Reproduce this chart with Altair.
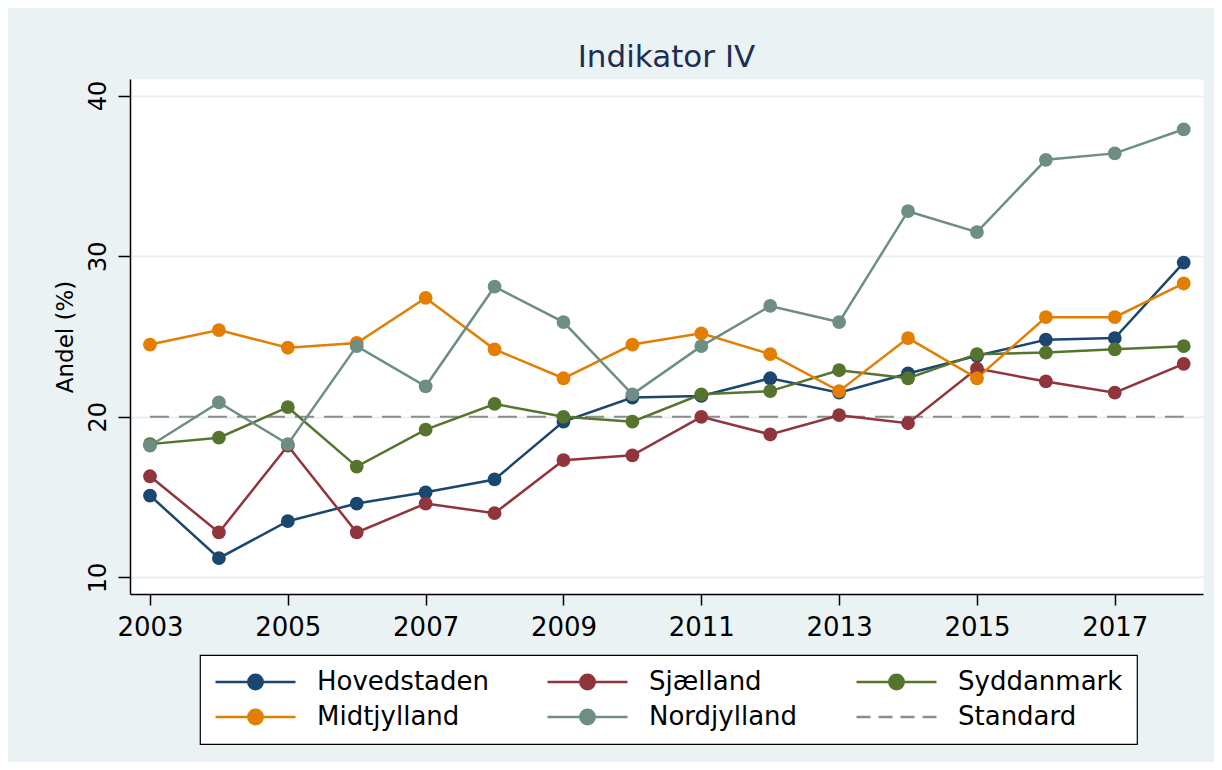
import altair as alt
import pandas as pd

# ---------------- data ----------------
years = list(range(2003, 2019))
hovedstaden = [15.1, 11.2, 13.5, 14.6, 15.3, 16.1, 19.7, 21.2, 21.3, 22.4, 21.5, 22.7, 23.8, 24.8, 24.9, 29.6]
sjaelland   = [16.3, 12.8, 18.2, 12.8, 14.6, 14.0, 17.3, 17.6, 20.0, 18.9, 20.1, 19.6, 23.0, 22.2, 21.5, 23.3]
syddanmark  = [18.3, 18.7, 20.6, 16.9, 19.2, 20.8, 20.0, 19.7, 21.4, 21.6, 22.9, 22.4, 23.9, 24.0, 24.2, 24.4]
midtjylland = [24.5, 25.4, 24.3, 24.6, 27.4, 24.2, 22.4, 24.5, 25.2, 23.9, 21.6, 24.9, 22.4, 26.2, 26.2, 28.3]
nordjylland = [18.2, 20.9, 18.3, 24.4, 21.9, 28.1, 25.9, 21.4, 24.4, 26.9, 25.9, 32.8, 31.5, 36.0, 36.4, 37.9]

series_names = ["Hovedstaden", "Sjælland", "Syddanmark", "Midtjylland", "Nordjylland"]
series_values = [hovedstaden, sjaelland, syddanmark, midtjylland, nordjylland]
standard_name = "Standard"
standard_value = 20

series_colors = ["#1A476F", "#90353B", "#55752F", "#E37E00", "#6E8E84", "#8C8C8C"]
x_ticks = [2003, 2005, 2007, 2009, 2011, 2013, 2015, 2017]
y_ticks = [10, 20, 30, 40]

rows = []
for name, vals in zip(series_names, series_values):
    for yr, v in zip(years, vals):
        rows.append({"year": yr, "value": v, "series": name})
df = pd.DataFrame(rows)
std_df = pd.DataFrame({
    "year": [years[0], years[-1]],
    "value": [standard_value, standard_value],
    "series": [standard_name, standard_name],
})

# ---------------- styling ----------------
FONT = "DejaVu Sans"
domain = series_names + [standard_name]
color_scale = alt.Scale(domain=domain, range=series_colors)

circle_path = "M-1,0H1M0.18,0A0.18,0.18,0,1,1,-0.18,0A0.18,0.18,0,1,1,0.18,0Z"
dash_path = "M-1,0H-0.65M-0.45,0H-0.1M0.1,0H0.45M0.65,0H1"

legend = alt.Legend(
    title=None,
    orient="none",
    legendX=70,
    legendY=576,
    direction="horizontal",
    columns=3,
    symbolType={"expr": f"datum.value == '{standard_name}' ? '{dash_path}' : '{circle_path}'"},
    symbolFillColor={"expr": "scale('color', datum.value)"},
    symbolStrokeColor={"expr": "scale('color', datum.value)"},
    symbolSize=6400,
    symbolStrokeWidth=2.5,
    symbolOpacity=1,
    clipHeight=26,
    rowPadding=9,
    columnPadding=57,
    labelFont=FONT,
    labelFontSize=26,
    labelColor="black",
    labelLimit=400,
    labelOffset=20,
    padding=14,
    fillColor="white",
    strokeColor="black",
)

x_enc = alt.X(
    "year:Q",
    scale=alt.Scale(domain=[2002.71, 2018.28], nice=False, zero=False),
    axis=alt.Axis(
        values=x_ticks, format="d", title=None, grid=False,
        labelFont=FONT, labelFontSize=26, labelColor="black",
        labelBaseline="alphabetic", labelPadding=30, labelFlush=False,
        tickSize=11, tickColor="black", tickWidth=1.5,
        domainColor="black", domainWidth=1.5,
    ),
)
y_enc = alt.Y(
    "value:Q",
    scale=alt.Scale(domain=[8.97, 41.03], nice=False, zero=False),
    axis=alt.Axis(
        values=y_ticks, title="Andel (%)",
        titleFont=FONT, titleFontSize=23, titleFontWeight="normal", titleColor="black",
        titleAngle=270, titleBaseline="alphabetic", titleX=-58, titleY=257.5, titleAlign="center",
        labelFont=FONT, labelFontSize=24, labelColor="black",
        labelAngle=270, labelAlign="center", labelBaseline="alphabetic", labelPadding=13,
        tickSize=12, tickColor="black", tickWidth=1.5,
        domainColor="black", domainWidth=1.5,
        grid=True, gridColor="#E6EFF1", gridWidth=2,
    ),
)
color_enc = alt.Color("series:N", scale=color_scale, legend=legend)

base = alt.Chart(df)
std_layer = alt.Chart(std_df).mark_line(strokeDash=[19, 10], strokeWidth=2).encode(
    x=x_enc, y=y_enc, color=color_enc
)
lines = base.mark_line(strokeWidth=2.5).encode(x=x_enc, y=y_enc, color=color_enc)
points = base.mark_circle(size=190, opacity=1).encode(x=x_enc, y=y_enc, color=color_enc)

chart = alt.layer(std_layer, lines, points).properties(
    width=1073,
    height=515,
    title=alt.TitleParams(
        "Indikator IV", font=FONT, fontSize=31, fontWeight="normal", color="#1E2D53",
        anchor="middle", baseline="alphabetic", offset=-19,
    ),
    autosize=alt.AutoSizeParams(type="none"),
    padding={"left": 122, "top": 71, "right": 11, "bottom": 168},
    background="#EAF2F3",
).configure_view(
    fill="white", stroke="transparent"
).configure_legend(
    strokeWidth=1.2, cornerRadius=0
)

chart.save("out.html", embed_options={"renderer": "svg", "actions": False})
